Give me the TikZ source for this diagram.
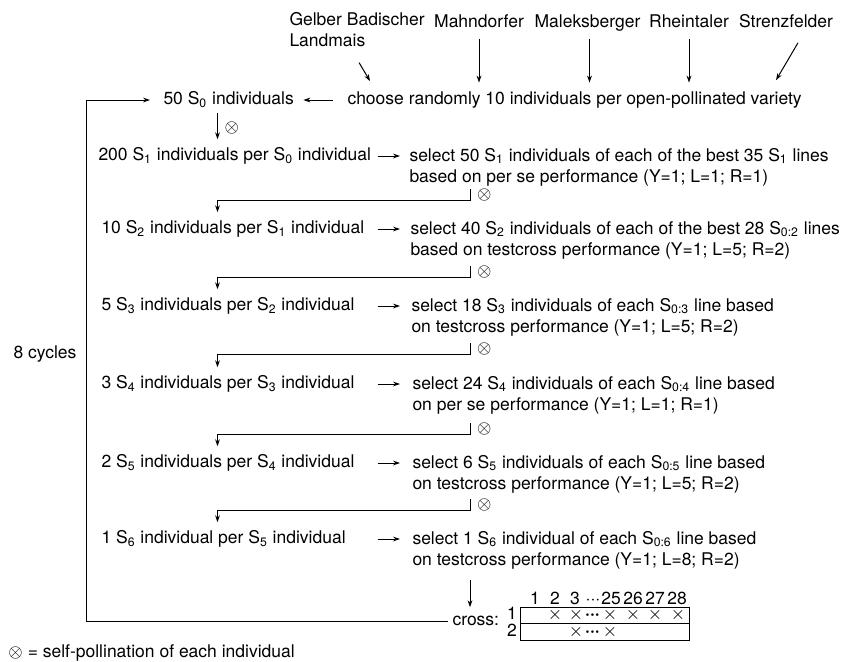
\documentclass[tikz,border=0pt]{standalone}
\usepackage{fontspec}
\setmainfont{TeX Gyre Heros}
\usetikzlibrary{positioning, arrows.meta, calc}

\newcommand{\Ssub}[1]{S\textsubscript{#1}}

\begin{document}
\begin{tikzpicture}[
    x=0.5pt, y=-0.5pt,          % 1単位 = 元画像の1ピクセル（y軸は下向き）
    line width=0.5pt,
    >={Stealth[length=3.5pt, width=2.4pt]},
    font=\fontsize{8.75}{10.5}\selectfont,
    % 一行のテキスト
    txt/.style={inner sep=0pt, text height=6.5pt, text depth=1.8pt},
    % 二行のテキスト（選抜の説明）
    seltxt/.style={inner sep=0pt, align=left, anchor=west},
    % 交配表の記号
    cell/.style={inner sep=0pt, text height=6.5pt, text depth=1.8pt},
    head/.style={inner sep=0pt, text height=6.5pt, text depth=0pt}
]
    \useasboundingbox (0,0) rectangle (858,661);

    % 矢印の列
    \coordinate (lcol) at (86,0);
    \coordinate (dcol) at (217.5,0);
    \coordinate (acol) at (377.5,0);
    \coordinate (bcol) at (400,0);
    \coordinate (tcol) at (470,0);

    % --- 1. 品種名 ---
    \node [seltxt] (var1) at (289,30) {Gelber Badischer\\Landmais};
    \node [txt] (var2) at (479,23) {Mahndorfer};
    \node [txt] (var3) at (587.5,23) {Maleksberger};
    \node [txt] (var4) at (689,23) {Rheintaler};
    \node [txt] (var5) at (786,23) {Strenzfelder};

    \node [txt, anchor=west] (choose) at (347,100)
        {choose randomly 10 individuals per open-pollinated variety};
    \node [txt, anchor=west] (s0) at (163,100) {50 \Ssub{0} individuals};

    \draw [->] ($(var1.south)+(2,15)$) -- ($(var1.south |- choose.north)+(13,-10)$);
    \draw [->, shorten <=3.4pt, shorten >=4.3pt] (var2.south) -- (var2.south |- choose.north);
    \draw [->, shorten <=3.4pt, shorten >=4.3pt] ([xshift=1pt]var3.south) -- ([xshift=1pt]var3.south |- choose.north);
    \draw [->, shorten <=3.4pt, shorten >=4.3pt] (var4.south) -- (var4.south |- choose.north);
    \draw [->] ($(var5.south)+(12,11)$) -- ($(var5.south |- choose.north)+(-10,-11)$);
    \draw [->, shorten <=7pt, shorten >=4.5pt] (choose.west) -- (s0.east);

    % --- 2. 各世代の個体数 ---
    \node [txt, anchor=west] (gen1) at (98,156) {200 \Ssub{1} individuals per \Ssub{0} individual};
    \node [txt, anchor=west] (gen2) at (101,229) {10 \Ssub{2} individuals per \Ssub{1} individual};
    \node [txt, anchor=west] (gen3) at (101,306) {5 \Ssub{3} individuals per \Ssub{2} individual};
    \node [txt, anchor=west] (gen4) at (101,384) {3 \Ssub{4} individuals per \Ssub{3} individual};
    \node [txt, anchor=west] (gen5) at (101,463) {2 \Ssub{5} individuals per \Ssub{4} individual};
    \node [txt, anchor=west] (gen6) at (101,539) {1 \Ssub{6} individual per \Ssub{5} individual};

    % --- 3. 選抜の説明 ---
    \node [seltxt] (sel1) at (409,167)
        {select 50 \Ssub{1} individuals of each of the best 35 \Ssub{1} lines\\based on per se performance (Y=1; L=1; R=1)};
    \node [seltxt] (sel2) at (410,240)
        {select 40 \Ssub{2} individuals of each of the best 28 \Ssub{0:2} lines\\based on testcross performance (Y=1; L=5; R=2)};
    \node [seltxt] (sel3) at (411,317)
        {select 18 \Ssub{3} individuals of each \Ssub{0:3} line based\\on testcross performance (Y=1; L=5; R=2)};
    \node [seltxt] (sel4) at (412,395)
        {select 24 \Ssub{4} individuals of each \Ssub{0:4} line based\\on per se performance (Y=1; L=1; R=1)};
    \node [seltxt] (sel5) at (412,474)
        {select 6 \Ssub{5} individuals of each \Ssub{0:5} line based\\on testcross performance (Y=1; L=5; R=2)};
    \node [seltxt] (sel6) at (412,550)
        {select 1 \Ssub{6} individual of each \Ssub{0:6} line based\\on testcross performance (Y=1; L=8; R=2)};

    % 世代 -> 選抜 の矢印
    \draw [->] (acol |- gen1) -- (bcol |- gen1);
    \draw [->] (acol |- gen2) -- (bcol |- gen2);
    \draw [->] (acol |- gen3) -- (bcol |- gen3);
    \draw [->] (acol |- gen4) -- (bcol |- gen4);
    \draw [->] (acol |- gen5) -- (bcol |- gen5);
    \draw [->] (acol |- gen6) -- (bcol |- gen6);

    % --- 4. 自殖（選抜 -> 次の世代） ---
    \draw [->, shorten <=2pt, shorten >=4pt] (s0.south -| dcol) -- node [midway, right] {$\otimes$} (gen1.north -| dcol);
    % 選抜の下の短い線から左へ戻る
    \draw [->, shorten >=4pt] ($(gen2.north -| tcol)+(0,-31)$)
        -- node [pos=0.5, right] {$\otimes$} ($(gen2.north -| tcol)+(0,-20)$) -| (gen2.north -| dcol);
    \draw [->, shorten >=4pt] ($(gen3.north -| tcol)+(0,-31)$)
        -- node [pos=0.5, right] {$\otimes$} ($(gen3.north -| tcol)+(0,-20)$) -| (gen3.north -| dcol);
    \draw [->, shorten >=4pt] ($(gen4.north -| tcol)+(0,-32)$)
        -- node [pos=0.5, right] {$\otimes$} ($(gen4.north -| tcol)+(0,-21)$) -| (gen4.north -| dcol);
    \draw [->, shorten >=4pt] ($(gen5.north -| tcol)+(0,-31)$)
        -- node [pos=0.5, right] {$\otimes$} ($(gen5.north -| tcol)+(0,-20)$) -| (gen5.north -| dcol);
    \draw [->, shorten >=4pt] ($(gen6.north -| tcol)+(0,-31)$)
        -- node [pos=0.5, right] {$\otimes$} ($(gen6.north -| tcol)+(0,-20)$) -| (gen6.north -| dcol);

    % --- 5. 交配と8サイクルのループ ---
    \node [txt, anchor=west] (cross) at (452,621) {cross:};
    \draw [->, shorten <=5.5pt, shorten >=2.5pt] (sel6.south -| tcol) -- (cross.north -| tcol);
    \draw [->, shorten <=2pt, shorten >=6.5pt] (cross.west) -| (lcol |- s0.west) -- (s0.west);
    \node [txt, anchor=west] (cycles) at (13,354) {8 cycles};

    % 交配表
    \draw (520,607) rectangle (689,640);
    \draw (520,623.5) -- (689,623.5);
    \node [cell] (r1) at (512,615) {1};
    \node [cell] (r2) at (512,632) {2};
    \node [head, anchor=base] (h1) at (535,604) {1};
    \node [head, anchor=base] (h2) at (555,604) {2};
    \node [head, anchor=base] (h3) at (575,604) {3};
    \node [head, anchor=base] (hd) at (593,604) {···};
    \node [head, anchor=base] (h25) at (611,604) {25};
    \node [head, anchor=base] (h26) at (633,604) {26};
    \node [head, anchor=base] (h27) at (655,604) {27};
    \node [head, anchor=base] (h28) at (677,604) {28};
    \node [cell] (x12) at (555,615) {$\times$};
    \node [cell] (x13) at (576,615) {$\times$};
    \node [cell] (d1) at (592.5,615) {\textbf{···}};
    \node [cell] (x125) at (610,615) {$\times$};
    \node [cell] (x126) at (633,615) {$\times$};
    \node [cell] (x127) at (655,615) {$\times$};
    \node [cell] (x128) at (678,615) {$\times$};
    \node [cell] (x23) at (576,632) {$\times$};
    \node [cell] (d2) at (592.5,632) {\textbf{···}};
    \node [cell] (x225) at (610,632) {$\times$};

    % --- 6. 凡例 ---
    \node [txt, anchor=west] (legend) at (8,653) {$\otimes$ = self-pollination of each individual};

\end{tikzpicture}
\end{document}
